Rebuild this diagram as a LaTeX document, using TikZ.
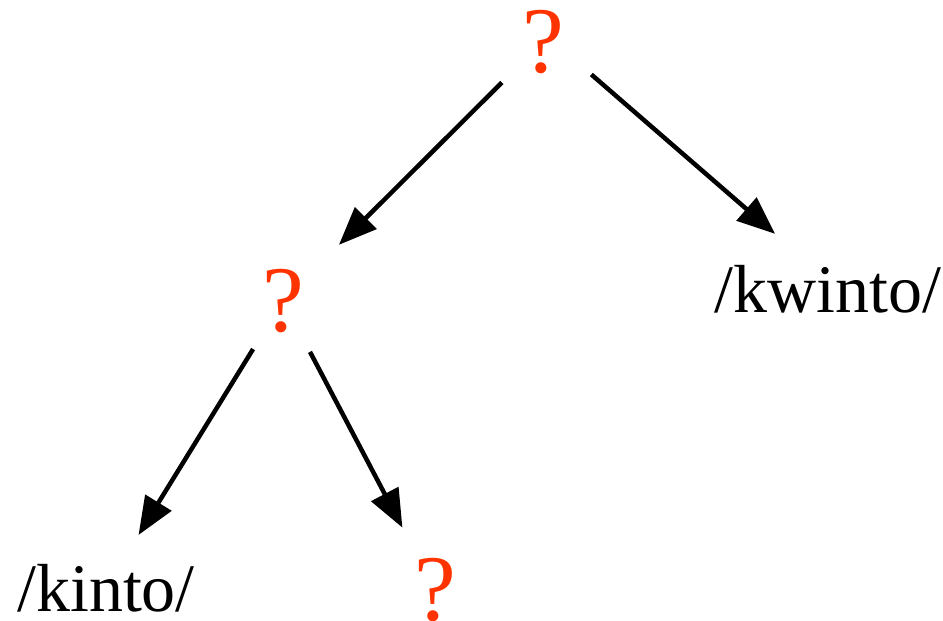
\documentclass[tikz,border=0pt]{standalone}
\usepackage{fontspec}
\setmainfont{Liberation Serif}
\usepackage{xcolor}
\usetikzlibrary{arrows.meta}
\definecolor{qred}{RGB}{255,51,0}

\begin{document}
\begin{tikzpicture}[
      x=1pt, y=-1pt,
      q/.style={text=qred, font=\fontsize{94}{94}\selectfont, inner sep=0pt, anchor=base},
      word/.style={font=\fontsize{68}{68}\selectfont, inner sep=0pt, anchor=base},
      arr/.style={-{Triangle[length=38pt, width=30pt]}, line width=4.5pt}
    ]
    \useasboundingbox (0,0) rectangle (943,621);
    % nodes
    \node[q] (root) at (543,72) {?};
    \node[q] (mid) at (283,331) {?};
    \node[word] (kwinto) at (828,312) {/kwinto/};
    \node[word] (kinto) at (106,611) {/kinto/};
    \node[q] (leaf) at (435,620) {?};
    % edges
    \draw[arr, shorten <=58pt, shorten >=79pt] (root.center) -- (mid.center);
    \draw[arr, shorten <=64pt, shorten >=70pt] ([yshift=9pt]root.center) -- ([yshift=9pt]kwinto.center);
    \draw[arr, shorten <=57pt, shorten >=62pt] (mid.center) -- (kinto.center);
    \draw[arr, shorten <=58pt, shorten >=70pt] (mid.center) -- (leaf.center);
  \end{tikzpicture}
\end{document}
